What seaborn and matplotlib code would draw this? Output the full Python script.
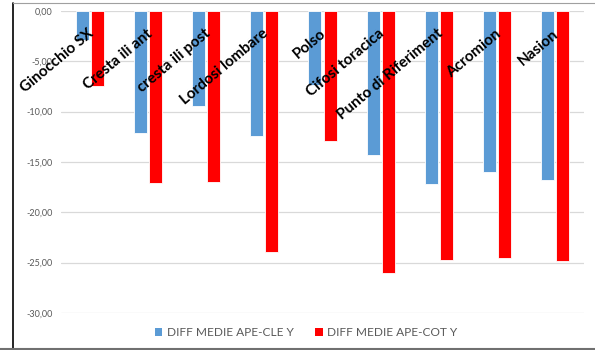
import matplotlib
matplotlib.use("Agg")
import matplotlib.pyplot as plt
import matplotlib.transforms as mtransforms
from matplotlib.lines import Line2D
from matplotlib.patches import Patch
import pandas as pd
import seaborn as sns

categories = ["Ginocchio SX", "Cresta ili ant", "cresta ili post", "Lordosi lombare",
              "Polso", "Cifosi toracica", "Punto di Riferiment", "Acromion", "Nasion"]
series_names = ["DIFF MEDIE APE-CLE Y", "DIFF MEDIE APE-COT Y"]
ape_cle = [-2.92, -12.12, -9.40, -12.38, -7.32, -14.34, -17.18, -15.96, -16.78]
ape_cot = [-7.42, -17.08, -16.95, -23.93, -12.95, -26.02, -24.77, -24.57, -24.87]
y_ticks = [0, -5, -10, -15, -20, -25, -30]

colors = {series_names[0]: "#5B9BD5", series_names[1]: "#FF0000"}

df = pd.DataFrame({
    "categoria": categories * 2,
    "serie": [series_names[0]] * len(categories) + [series_names[1]] * len(categories),
    "valore": ape_cle + ape_cot,
})

sns.set_theme(style="white")
plt.rcParams["font.family"] = ["Lato", "DejaVu Sans"]

fig = plt.figure(figsize=(5.95, 3.5), dpi=100)
ax = fig.add_axes([61 / 595, 1 - 313 / 350, (584 - 61) / 595, (313 - 11) / 350])

sns.barplot(data=df, x="categoria", y="valore", hue="serie", order=categories,
            hue_order=series_names, palette=colors, saturation=1, width=0.52, gap=0.14,
            edgecolor="white", linewidth=0.6, errorbar=None, legend=False, ax=ax,
            zorder=3)

ax.set_ylim(-30, 0)
ax.set_xlim(-0.5, len(categories) - 0.5)
ax.set_yticks(y_ticks)
ax.set_yticklabels([f"{v:.2f}".replace(".", ",") for v in y_ticks],
                   color="#595959", fontsize=6.5)
ax.tick_params(axis="y", length=0, pad=6)
ax.tick_params(axis="x", length=0)
ax.set_xticks([])
ax.set_xlabel("")
ax.set_ylabel("")
ax.yaxis.grid(True, color="#d9d9d9", linewidth=0.9, zorder=0)
for s in ax.spines.values():
    s.set_visible(False)

# rotated category names hanging below the zero line
offset = mtransforms.ScaledTranslation(2 / 100, -21 / 100, fig.dpi_scale_trans)
trans = mtransforms.blended_transform_factory(ax.transData, ax.transAxes) + offset
for i, name in enumerate(categories):
    ax.text(i, 1.0, name, transform=trans, rotation=40, rotation_mode="anchor",
            ha="right", va="center", fontsize=11, fontweight="bold",
            color="black", zorder=5)

handles = [Patch(facecolor=colors[n], edgecolor="none", label=n) for n in series_names]
fig.legend(handles=handles, loc="center", bbox_to_anchor=(0.515, 1 - 333 / 350),
           ncol=2, frameon=False, fontsize=8.6, labelcolor="#595959",
           handlelength=0.6, handleheight=0.6, handletextpad=0.4, columnspacing=1.8)

# chart frame
fig.add_artist(Line2D([13 / 595, 13 / 595], [0.003, 1 - 3 / 350],
                      transform=fig.transFigure, color="black", linewidth=1.2))
fig.add_artist(Line2D([13 / 595, 1], [1 - 2.5 / 350, 1 - 2.5 / 350],
                      transform=fig.transFigure, color="#a0a0a0", linewidth=0.8))
fig.add_artist(Line2D([0, 1], [1.5 / 350, 1.5 / 350],
                      transform=fig.transFigure, color="#707070", linewidth=1.5))

fig.savefig("out.png", dpi=100)
